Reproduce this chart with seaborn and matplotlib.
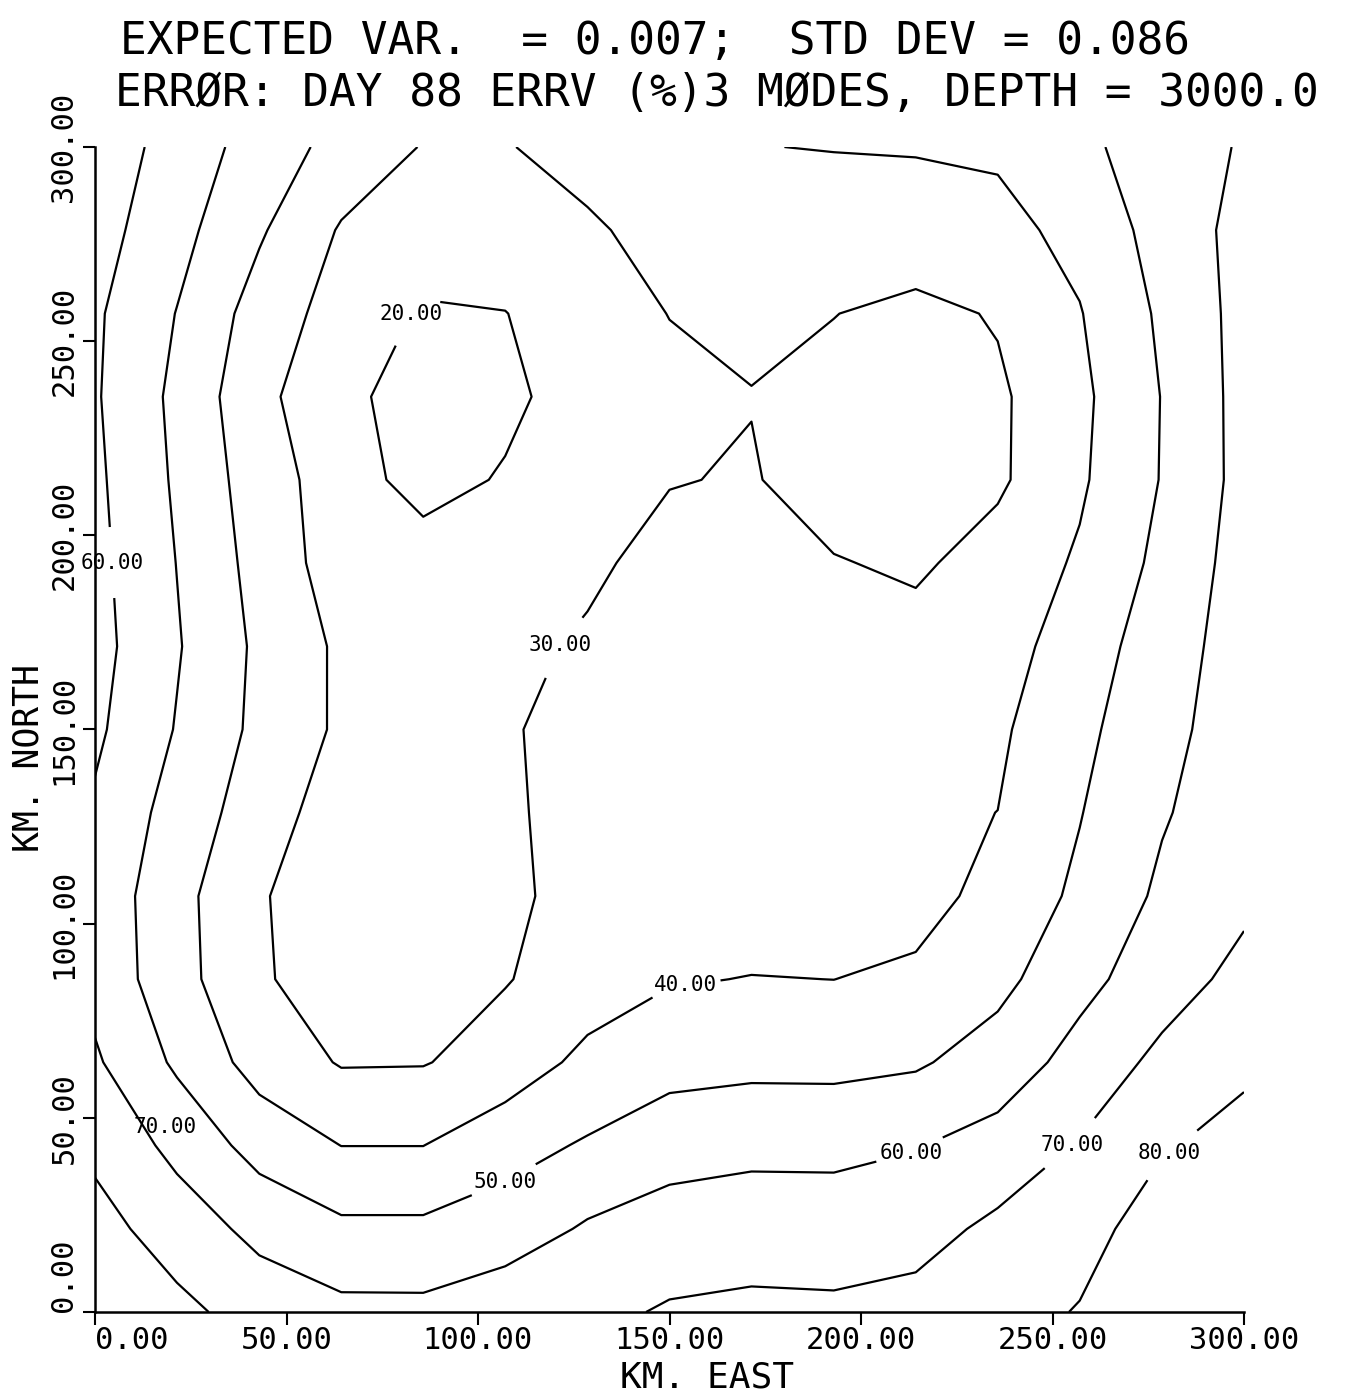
import numpy as np
import matplotlib
matplotlib.use("Agg")
import matplotlib.pyplot as plt
import seaborn as sns

# grid nodes of the map (km)
east_km = [0.0, 21.4, 42.9, 64.3, 85.7, 107.1, 128.6, 150.0,
           171.4, 192.9, 214.3, 235.7, 257.1, 278.6, 300.0]
north_km = [0.0, 21.4, 42.9, 64.3, 85.7, 107.1, 128.6, 150.0,
            171.4, 192.9, 214.3, 235.7, 257.1, 278.6, 300.0]

# expected error (%), one row per north_km value (south -> north)
errv_pct = [
    [77.0, 72.5, 66.0, 62.5, 62.4, 66.6, 68.0, 70.8, 72.0, 71.4, 73.2, 76.0, 80.6, 89.0, 89.5],
    [73.5, 65.4, 57.2, 52.0, 52.0, 54.6, 61.2, 65.5, 65.5, 66.0, 66.5, 72.1, 76.2, 85.0, 88.6],
    [67.8, 57.2, 46.3, 39.9, 39.9, 46.5, 51.0, 55.1, 57.5, 57.1, 59.5, 63.7, 70.7, 79.1, 83.4],
    [61.3, 48.4, 36.0, 29.3, 29.5, 34.0, 42.7, 47.0, 47.5, 47.5, 48.8, 54.4, 63.6, 72.5, 78.1],
    [56.9, 43.7, 31.2, 25.0, 24.5, 29.5, 34.5, 39.2, 40.3, 39.95, 42.0, 47.2, 57.0, 65.5, 72.9],
    [56.5, 43.2, 30.9, 24.0, 22.0, 28.5, 32.6, 34.0, 34.5, 35.0, 35.9, 43.6, 51.8, 61.8, 67.9],
    [58.6, 46.0, 34.9, 24.9, 23.5, 28.5, 33.7, 35.0, 36.5, 37.5, 38.5, 40.05, 49.6, 59.1, 66.0],
    [61.8, 49.4, 37.6, 28.4, 26.0, 29.0, 33.5, 35.5, 36.5, 37.0, 37.5, 38.4, 47.6, 56.8, 65.5],
    [63.4, 50.8, 38.1, 28.3, 26.0, 27.5, 31.3, 33.5, 34.5, 34.5, 33.5, 35.6, 45.2, 54.9, 64.9],
    [62.7, 49.8, 36.5, 25.1, 25.0, 25.5, 28.2, 33.3, 33.0, 30.55, 28.5, 33.9, 41.2, 52.5, 64.1],
    [61.9, 48.6, 34.9, 24.9, 16.0, 21.0, 25.0, 29.55, 30.7, 25.5, 24.5, 28.4, 38.6, 50.5, 63.1],
    [61.0, 47.7, 32.8, 22.0, 16.5, 17.5, 25.3, 27.5, 29.7, 27.0, 25.5, 28.4, 37.8, 50.3, 63.3],
    [61.4, 49.7, 35.8, 25.8, 19.0, 19.8, 25.2, 30.2, 32.0, 30.2, 27.3, 30.8, 39.5, 51.6, 63.3],
    [64.0, 53.2, 41.2, 29.1, 25.0, 25.5, 29.0, 32.5, 34.0, 35.5, 36.5, 37.0, 42.9, 53.8, 63.2],
    [66.0, 56.1, 45.7, 36.6, 29.5, 29.6, 32.6, 36.5, 39.8, 40.3, 40.5, 41.5, 48.0, 54.4, 61.0],
]

levels = [20, 30, 40, 50, 60, 70, 80]
tick_km = [0, 50, 100, 150, 200, 250, 300]
tick_text = ["0.00", "50.00", "100.00", "150.00", "200.00", "250.00", "300.00"]

# where the contour labels sit (km)
label_spots = [(81, 258), (121, 172), (154, 85), (107, 33.5), (4.5, 193),
               (213, 41), (254, 44), (280, 41.7)]
extra_label = (18.3, 47.6, "70.00")

title_1 = "EXPECTED VAR.  = 0.007;  STD DEV = 0.086"
title_2 = "ERRØR: DAY 88 ERRV (%)3 MØDES, DEPTH = 3000.0"

sns.set_style("ticks")
plt.rcParams["font.family"] = ["DejaVu Sans Mono", "DejaVu Sans"]
plt.rcParams["text.color"] = "black"
plt.rcParams["axes.labelcolor"] = "black"

W, H = 1349, 1393
fig = plt.figure(figsize=(W / 100, H / 100), dpi=100)
ax = fig.add_axes([95 / W, 81 / H, 1149 / W, 1165 / H])

cs = ax.contour(east_km, north_km, np.array(errv_pct), levels=levels,
                colors="black", linewidths=1.6)
ax.set_xlim(0, 300)
ax.set_ylim(0, 300)

texts = ax.clabel(cs, fmt="%.2f", fontsize=15, inline=True,
                  inline_spacing=4, manual=label_spots)
for t in texts:
    t.set_rotation(0)
    t.set_clip_on(False)
ax.text(extra_label[0], extra_label[1], extra_label[2], fontsize=15,
        ha="center", va="center")

ax.set_xticks(tick_km, tick_text)
ax.set_yticks(tick_km, tick_text)
ax.tick_params(direction="out", length=9, width=1.5, labelsize=22,
               color="black", labelcolor="black")
ax.tick_params(axis="x", pad=1)
ax.tick_params(axis="y", labelrotation=90, pad=3)
for lbl in ax.get_yticklabels():
    lbl.set_va("center")
# the origin labels sit off the corner, as on the plotter output
ax.get_yticklabels()[0].set_va("bottom")
ax.get_xticklabels()[0].set_ha("left")

sns.despine(ax=ax)
for side in ["left", "bottom"]:
    ax.spines[side].set_linewidth(1.8)
    ax.spines[side].set_color("black")

ax.set_xlabel("KM. EAST", fontsize=26)
ax.set_ylabel("KM. NORTH", fontsize=25)
ax.xaxis.label.set_va("center")
ax.yaxis.label.set_va("center")
ax.xaxis.set_label_coords((707 - 95) / 1149, (1312 - 1378) / 1165)
ax.yaxis.set_label_coords((29 - 95) / 1149, (1312 - 758) / 1165)

fig.text(120 / W, 1 - 41 / H, title_1, fontsize=32, ha="left", va="center")
fig.text(115 / W, 1 - 93 / H, title_2, fontsize=32, ha="left", va="center")

fig.savefig("out.png", dpi=100, facecolor="white")
